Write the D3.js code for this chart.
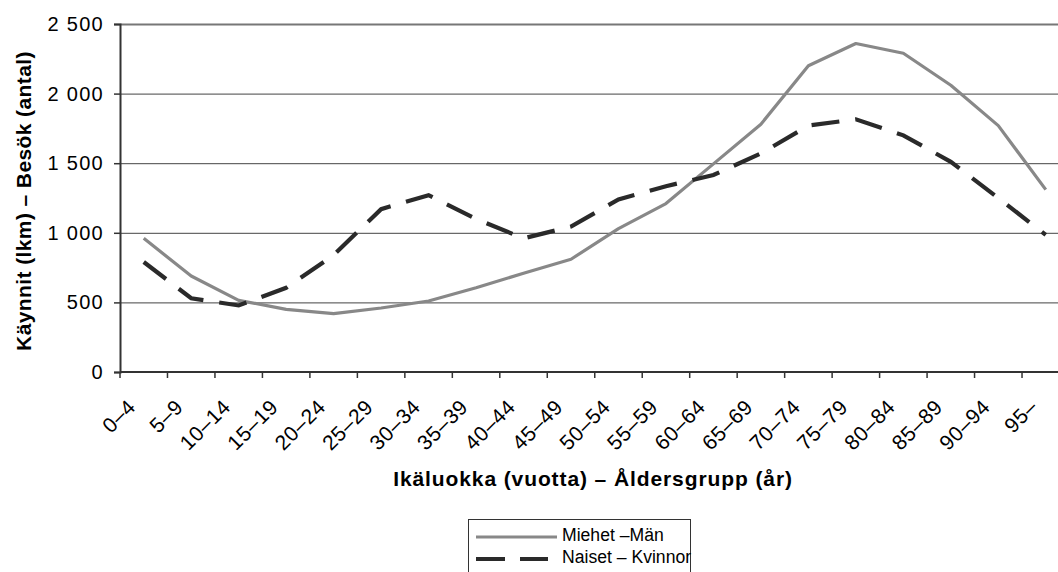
<!DOCTYPE html>
<html><head><meta charset="utf-8">
<script src="https://cdn.jsdelivr.net/npm/d3@7/dist/d3.min.js"></script>
<style>body{margin:0;background:#fff}svg{display:block}text{font-family:"Liberation Sans",Arial,sans-serif}</style>
</head><body>
<script>
const categories = ["0–4","5–9","10–14","15–19","20–24","25–29","30–34","35–39","40–44","45–49","50–54","55–59","60–64","65–69","70–74","75–79","80–84","85–89","90–94","95–"];
const men   = [960,690,515,450,420,460,510,605,710,810,1030,1210,1495,1780,2200,2360,2290,2060,1770,1310];
const women = [790,530,478,605,840,1170,1270,1100,960,1045,1240,1335,1415,1570,1770,1815,1700,1510,1250,985];
const yTicks = [0,500,1000,1500,2000,2500];
const seriesNames = ["Miehet –Män","Naiset – Kvinnor"];
const xTitle = "Ikäluokka (vuotta) – Åldersgrupp (år)";
const yTitle = "Käynnit (lkm) – Besök (antal)";

const W = 1058, H = 572;
const svg = d3.select("body").append("svg").attr("width", W).attr("height", H);
const x = d3.scaleBand().domain(categories).range([120, 1069.5]).paddingInner(0).paddingOuter(0);
const y = d3.scaleLinear().domain([0, 2500]).range([372, 24]);
const fmt = v => d3.format(",")(v).replace(/,/g, " ");

// gridlines
svg.append("g").selectAll("line").data(yTicks.filter(d => d > 0)).join("line")
  .attr("x1", 120).attr("x2", W).attr("y1", d => y(d) + 0.5).attr("y2", d => y(d) + 0.5)
  .attr("stroke", d => d === 2500 ? "#777" : "#444").attr("stroke-width", d => d === 2500 ? 2 : 1);

// y axis
const ya = svg.append("g").attr("transform", "translate(120,0)")
  .call(d3.axisLeft(y).tickValues(yTicks).tickFormat(fmt).tickSize(6).tickPadding(9));
ya.select(".domain").attr("stroke", "#333").attr("stroke-width", 2);
ya.selectAll(".tick line").attr("stroke", "#333").attr("stroke-width", 1.5);
ya.selectAll(".tick text").attr("font-size", 20).attr("fill", "#000")
  .attr("font-family", "'Liberation Sans', Arial, sans-serif")
  .attr("letter-spacing", "1.3px")
  .attr("transform", "translate(-1,0)");

// x axis
const xa = svg.append("g").attr("transform", "translate(0,372)");
xa.append("line").attr("x1", 120).attr("x2", W).attr("y1", 0).attr("y2", 0).attr("stroke", "#333").attr("stroke-width", 2);
xa.selectAll("line.t").data(categories).join("line").attr("class", "t")
  .attr("x1", d => x(d)).attr("x2", d => x(d)).attr("y1", 0).attr("y2", 6)
  .attr("stroke", "#333").attr("stroke-width", 1.5);
xa.selectAll("text").data(categories).join("text")
  .attr("transform", d => `translate(${x(d) + x.bandwidth() / 2 - 12},${31}) rotate(-45)`)
  .attr("text-anchor", "end").attr("dy", "0.35em").attr("font-size", 21).attr("fill", "#000")
  .attr("letter-spacing", "0.6px")
  .text(d => d);

// lines
const line = d3.line().x((d, i) => x(categories[i]) + x.bandwidth() / 2).y(d => y(d));
svg.append("path").datum(men).attr("d", line).attr("fill", "none")
  .attr("stroke", "#888").attr("stroke-width", 3.2).attr("stroke-linejoin", "round");
svg.append("path").datum(women).attr("d", line).attr("fill", "none")
  .attr("stroke", "#2a2a2a").attr("stroke-width", 4.2).attr("stroke-dasharray", "28,16");

// titles
svg.append("text").attr("x", 593).attr("y", 486).attr("text-anchor", "middle")
  .attr("font-size", 21).attr("font-weight", "bold").attr("letter-spacing", "0.9px").text(xTitle);
svg.append("text").attr("transform", "translate(31,201) rotate(-90)").attr("text-anchor", "middle")
  .attr("font-size", 21).attr("font-weight", "bold").attr("letter-spacing", "0.4px").text(yTitle);

// legend
const lg = svg.append("g");
lg.append("rect").attr("x", 468.5).attr("y", 519.5).attr("width", 222).attr("height", 60)
  .attr("fill", "#fff").attr("stroke", "#333").attr("stroke-width", 1);
lg.append("line").attr("x1", 476).attr("x2", 557).attr("y1", 537).attr("y2", 537)
  .attr("stroke", "#888").attr("stroke-width", 3.2);
lg.append("line").attr("x1", 476).attr("x2", 548).attr("y1", 559).attr("y2", 559)
  .attr("stroke", "#2a2a2a").attr("stroke-width", 4.2).attr("stroke-dasharray", "29,15");
lg.selectAll("text.l").data(seriesNames).join("text").attr("class", "l")
  .attr("x", 562).attr("y", (d, i) => 535 + i * 22).attr("dy", "0.35em")
  .attr("font-size", 17.6).text(d => d);
</script>
</body></html>
